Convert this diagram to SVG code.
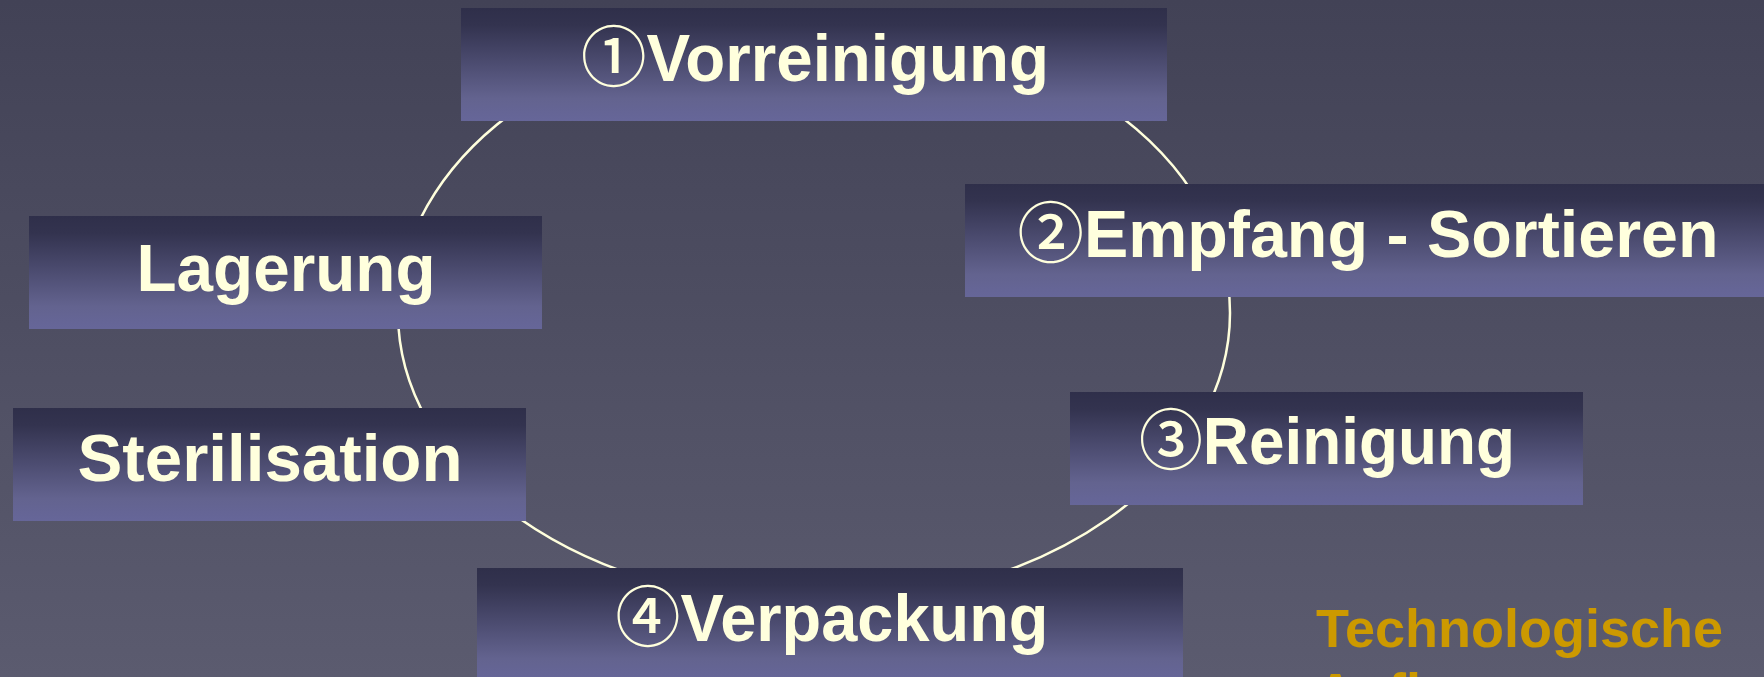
<svg xmlns="http://www.w3.org/2000/svg" width="1764" height="677" viewBox="0 0 1764 677">
  <defs>
    <linearGradient id="bg" x1="0" y1="0" x2="0" y2="1">
      <stop offset="0" stop-color="#424256"/>
      <stop offset="1" stop-color="#5b5b6f"/>
    </linearGradient>
    <linearGradient id="boxFill" x1="0" y1="0" x2="0" y2="1">
      <stop offset="0" stop-color="#2f2f4a"/>
      <stop offset="0.15" stop-color="#33334f"/>
      <stop offset="0.8" stop-color="#63638f"/>
      <stop offset="1" stop-color="#666699"/>
    </linearGradient>
    <style>
      .box { fill: url(#boxFill); }
      .label { font-family: "Liberation Sans", Arial, sans-serif; font-weight: bold; font-size: 66px; fill: #ffffdd; text-anchor: middle; }
      .num { font-family: "Noto Sans CJK JP", "DejaVu Sans", sans-serif; font-weight: 500; }
      .note { font-family: "Liberation Sans", Arial, sans-serif; font-weight: bold; font-size: 54px; fill: #cc9900; }
      .cycle { fill: none; stroke: #ffffdd; stroke-width: 2.5; }
    </style>
  </defs>

  <rect width="1764" height="677" fill="url(#bg)"/>

  <g id="connectors">
    <ellipse class="cycle" cx="814" cy="313" rx="416" ry="291"/>
  </g>

  <g id="node-vorreinigung">
    <rect class="box" x="461" y="8" width="706" height="113"/>
    <text class="label" x="815" y="81" textLength="468" lengthAdjust="spacingAndGlyphs"><tspan class="num">①</tspan>Vorreinigung</text>
  </g>

  <g id="node-empfang">
    <rect class="box" x="965" y="184" width="806" height="113"/>
    <text class="label" x="1368" y="257" textLength="701" lengthAdjust="spacingAndGlyphs"><tspan class="num">②</tspan>Empfang - Sortieren</text>
  </g>

  <g id="node-reinigung">
    <rect class="box" x="1070" y="392" width="513" height="113"/>
    <text class="label" x="1327" y="464" textLength="376" lengthAdjust="spacingAndGlyphs"><tspan class="num">③</tspan>Reinigung</text>
  </g>

  <g id="node-verpackung">
    <rect class="box" x="477" y="568" width="706" height="113"/>
    <text class="label" x="832" y="641" textLength="433" lengthAdjust="spacingAndGlyphs"><tspan class="num">④</tspan>Verpackung</text>
  </g>

  <g id="node-sterilisation">
    <rect class="box" x="13" y="408" width="513" height="113"/>
    <text class="label" x="270" y="481" textLength="385" lengthAdjust="spacingAndGlyphs">Sterilisation</text>
  </g>

  <g id="node-lagerung">
    <rect class="box" x="29" y="216" width="513" height="113"/>
    <text class="label" x="286" y="291" textLength="299" lengthAdjust="spacingAndGlyphs">Lagerung</text>
  </g>

  <g id="note">
    <text class="note" x="1316" y="647">Technologische</text>
    <text class="note" x="1316" y="711">Aufbau</text>
  </g>
</svg>
